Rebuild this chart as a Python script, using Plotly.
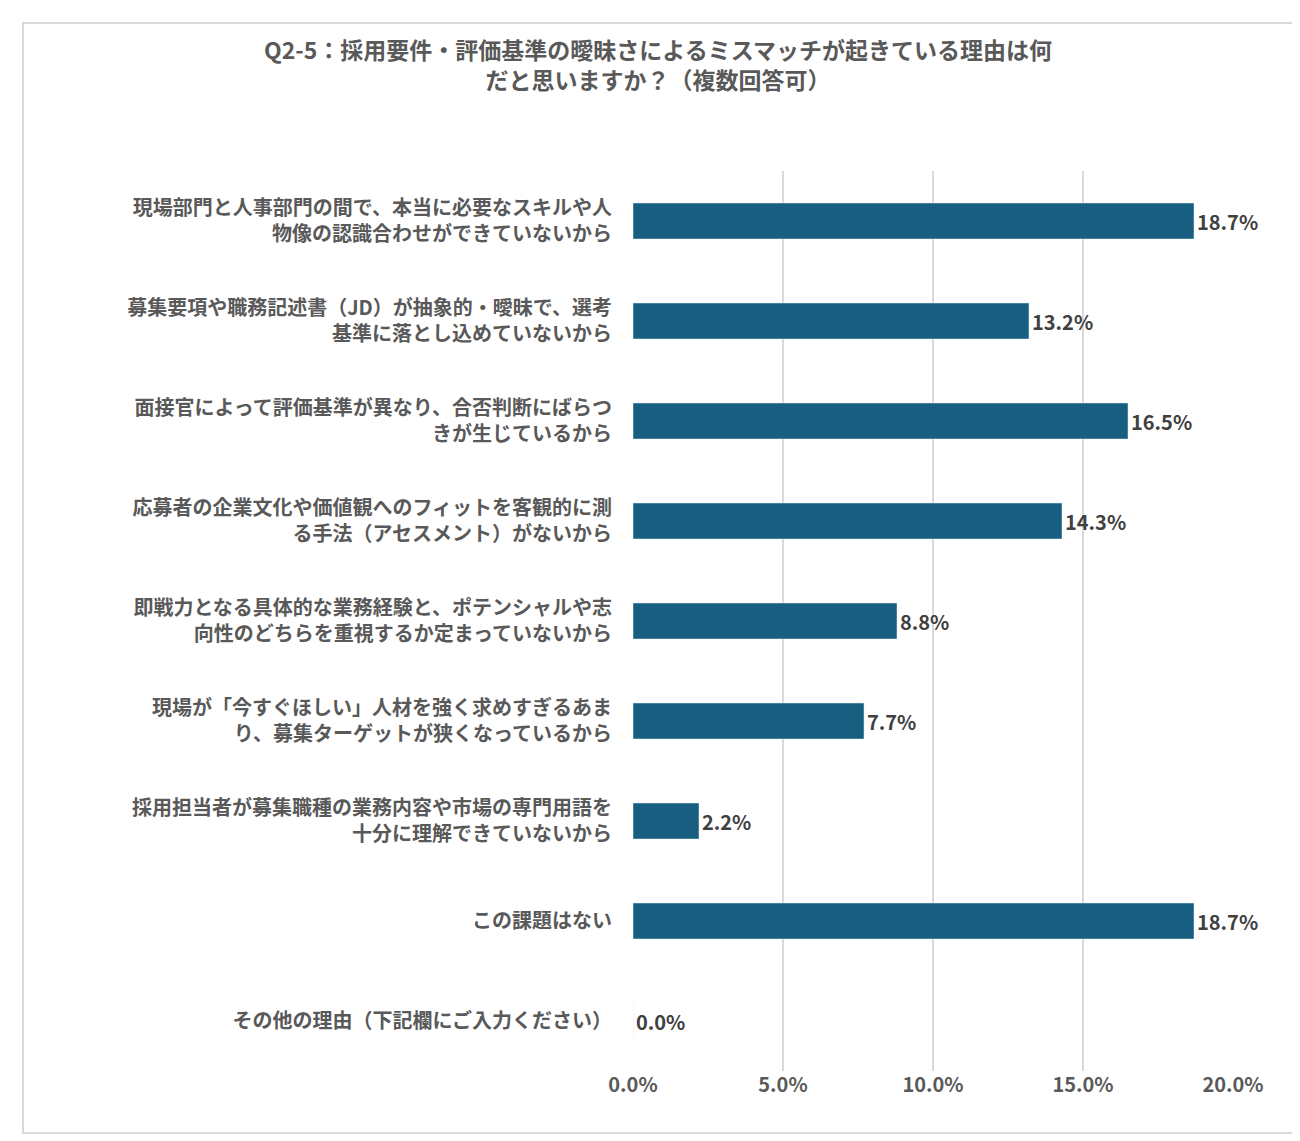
import plotly.graph_objects as go

categories = [
    "現場部門と人事部門の間で、本当に必要なスキルや人<br>物像の認識合わせができていないから",
    "募集要項や職務記述書（JD）が抽象的・曖昧で、選考<br>基準に落とし込めていないから",
    "面接官によって評価基準が異なり、合否判断にばらつ<br>きが生じているから",
    "応募者の企業文化や価値観へのフィットを客観的に測<br>る手法（アセスメント）がないから",
    "即戦力となる具体的な業務経験と、ポテンシャルや志<br>向性のどちらを重視するか定まっていないから",
    "現場が「今すぐほしい」人材を強く求めすぎるあま<br>り、募集ターゲットが狭くなっているから",
    "採用担当者が募集職種の業務内容や市場の専門用語を<br>十分に理解できていないから",
    "この課題はない",
    "その他の理由（下記欄にご入力ください）",
]
values = [18.7, 13.2, 16.5, 14.3, 8.8, 7.7, 2.2, 18.7, 0.0]
ticks = [0, 5, 10, 15, 20]

font = "Noto Sans CJK JP"
fig = go.Figure(go.Bar(
    y=categories, x=values, orientation="h", width=0.36,
    marker_color="#175E80",
    text=[f"<b>{v:.1f}%</b>" for v in values], textposition="outside",
    textfont=dict(size=20, color="#404040", family=font),
    cliponaxis=False,
))

fig.update_layout(
    width=1300, height=1141, paper_bgcolor="white", plot_bgcolor="white",
    margin=dict(l=625, r=75, t=163, b=78),
    font=dict(family=font, color="#595959"),
    title=dict(text="<b>Q2-5：採用要件・評価基準の曖昧さによるミスマッチが起きている理由は何<br>だと思いますか？（複数回答可）</b>",
               x=0.5, xanchor="center", y=0.955, yanchor="top",
               font=dict(size=23, color="#595959", family=font)),
    xaxis=dict(range=[0, 20], tickvals=ticks, ticktext=[f"<b>{t:.1f}%</b>" for t in ticks],
               showgrid=True, gridcolor="#D9D9D9", gridwidth=2, zeroline=False,
               tickfont=dict(size=20, color="#595959"), ticklen=0),
    yaxis=dict(categoryorder="array", categoryarray=categories[::-1],
               tickfont=dict(size=20, color="#595959"), ticklen=0,
               ticklabelstandoff=20, showline=False),
    shapes=[dict(type="rect", xref="paper", yref="paper",
                 x0=-1.0167, x1=1.1033, y0=-0.0689, y1=1.1644,
                 line=dict(color="#D9D9D9", width=2))],
    showlegend=False,
)
fig.update_yaxes(tickprefix="<b>", ticksuffix="</b>")
fig.write_html("out.html")
